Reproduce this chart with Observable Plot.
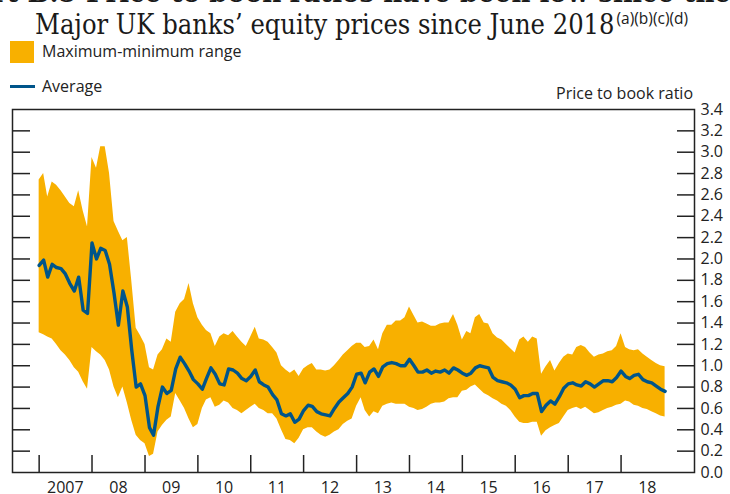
<!DOCTYPE html>
<html><head><meta charset="utf-8">
<script src="https://cdn.jsdelivr.net/npm/d3@7"></script>
<script src="https://cdn.jsdelivr.net/npm/@observablehq/plot@0.6"></script>
<style>
html,body{margin:0;padding:0;background:#fff;overflow:hidden;width:730px;height:494px}
#wrap{position:relative;width:730px;height:494px;overflow:hidden}
#head{position:relative;height:100px;width:730px}
.t1{position:absolute;left:-64px;top:-25px;white-space:nowrap;font:bold 29px "DejaVu Serif Condensed","DejaVu Serif",serif;color:#1a1a1a}
.t2{position:absolute;left:35px;top:9px;white-space:nowrap;font:27px "DejaVu Serif Condensed","DejaVu Serif",serif;color:#1a1a1a;background:#fff}
.t2 .sup{font:15.5px "Open Sans",sans-serif;position:relative;top:-10px;margin-left:2px}
.lg{position:absolute;font:16px "Open Sans",sans-serif;color:#222;white-space:nowrap}
.sw{position:absolute;left:10px;top:41px;width:24px;height:22px;background:#F8B000}
.ln{position:absolute;left:10px;top:85px;width:25px;height:3px;background:#00558A}
.yl{position:absolute;right:37px;top:82px;font:16px "Open Sans",sans-serif;color:#222;white-space:nowrap}
</style></head>
<body><div id="wrap">
<div id="head">
<div class="t1">Chart B.5 Price to book ratios have been low since the</div>
<div class="t2">Major UK banks’ equity prices since June 2018<span class="sup">(a)(b)(c)(d)</span></div>
<div class="sw"></div><div class="lg" style="left:42px;top:40px">Maximum-minimum range</div>
<div class="ln"></div><div class="lg" style="left:42px;top:75px">Average</div>
<div class="yl">Price to book ratio</div>
</div>
<div id="chart"></div>
</div>
<script>
// Monthly readings, Jan 2007 - Nov 2018
const avgValues = [
1.94,1.99,1.83,1.95,1.92,1.91,1.86,1.77,1.70,1.83,1.52,1.49,
2.15,2.00,2.10,2.08,1.95,1.68,1.38,1.70,1.55,1.15,0.80,0.83,
0.72,0.42,0.35,0.62,0.80,0.74,0.77,0.97,1.08,1.02,0.95,0.87,
0.83,0.78,0.88,0.98,0.92,0.83,0.82,0.97,0.96,0.93,0.88,0.86,
0.90,0.96,0.85,0.82,0.80,0.73,0.68,0.55,0.53,0.55,0.47,0.50,
0.58,0.63,0.62,0.57,0.55,0.54,0.53,0.60,0.66,0.70,0.74,0.80,
0.92,0.93,0.84,0.94,0.97,0.90,0.99,1.02,1.03,1.02,1.00,1.00,
1.06,1.00,0.94,0.94,0.96,0.93,0.95,0.94,0.96,0.93,0.98,0.96,
0.93,0.91,0.93,0.98,1.00,0.99,0.98,0.89,0.86,0.85,0.84,0.82,
0.78,0.70,0.72,0.72,0.74,0.74,0.57,0.63,0.67,0.64,0.71,0.79,
0.83,0.84,0.82,0.81,0.85,0.83,0.80,0.83,0.86,0.86,0.85,0.89,
0.95,0.90,0.88,0.91,0.92,0.87,0.85,0.84,0.81,0.78,0.76];
const maxValues = [
2.74,2.80,2.58,2.72,2.69,2.64,2.58,2.52,2.49,2.64,2.45,2.30,
2.95,2.85,3.05,3.05,2.80,2.35,2.26,2.17,2.20,1.80,1.35,1.28,
1.20,0.98,0.96,1.10,1.15,1.25,1.22,1.50,1.58,1.62,1.77,1.58,
1.45,1.38,1.33,1.30,1.18,1.27,1.30,1.28,1.32,1.27,1.22,1.18,
1.27,1.36,1.25,1.24,1.22,1.17,1.12,1.00,0.96,0.93,0.96,0.90,
0.97,1.00,1.02,0.96,0.96,0.95,0.96,1.00,1.05,1.10,1.14,1.18,
1.21,1.21,1.17,1.18,1.24,1.15,1.30,1.38,1.38,1.42,1.42,1.45,
1.55,1.47,1.40,1.41,1.39,1.37,1.37,1.39,1.40,1.40,1.48,1.38,
1.24,1.32,1.30,1.45,1.48,1.40,1.39,1.30,1.26,1.24,1.20,1.16,
1.12,1.24,1.27,1.22,1.27,1.25,0.92,0.99,1.05,0.95,1.02,1.08,
1.11,1.10,1.17,1.19,1.17,1.12,1.08,1.10,1.11,1.13,1.14,1.18,
1.30,1.17,1.15,1.14,1.15,1.11,1.08,1.05,1.02,1.00,0.99];
const minValues = [
1.31,1.29,1.27,1.25,1.20,1.14,1.10,1.05,0.98,0.94,0.85,0.78,
1.17,1.13,1.10,1.05,0.96,0.80,0.70,0.80,0.65,0.49,0.35,0.30,
0.27,0.15,0.17,0.38,0.44,0.49,0.52,0.74,0.67,0.60,0.50,0.42,
0.45,0.60,0.68,0.70,0.61,0.63,0.67,0.65,0.60,0.58,0.55,0.58,
0.61,0.64,0.60,0.58,0.55,0.55,0.50,0.40,0.31,0.30,0.27,0.32,
0.40,0.42,0.42,0.38,0.35,0.33,0.35,0.38,0.40,0.45,0.48,0.50,
0.62,0.70,0.58,0.52,0.57,0.55,0.62,0.64,0.65,0.64,0.64,0.64,
0.61,0.60,0.58,0.59,0.61,0.64,0.65,0.65,0.66,0.69,0.70,0.70,
0.76,0.77,0.80,0.82,0.78,0.74,0.72,0.69,0.67,0.64,0.62,0.58,
0.52,0.47,0.46,0.46,0.47,0.47,0.34,0.39,0.42,0.44,0.46,0.52,
0.58,0.60,0.61,0.59,0.61,0.58,0.55,0.56,0.58,0.60,0.61,0.63,
0.64,0.67,0.66,0.63,0.62,0.60,0.59,0.57,0.55,0.53,0.52];
const yearLabels = ["2007","08","09","10","11","12","13","14","15","16","17","18"];
const yTickValues = [0.0,0.2,0.4,0.6,0.8,1.0,1.2,1.4,1.6,1.8,2.0,2.2,2.4,2.6,2.8,3.0,3.2,3.4];
const yInnerTicks = [0.2,0.4,0.6,0.8,1.0,1.2,1.4,1.6,1.8,2.0,2.2,2.4,2.6,2.8,3.0,3.2];

const months = d3.utcMonth.range(new Date(Date.UTC(2007,0,1)), new Date(Date.UTC(2018,11,1)));
const rows = months.map((d,i)=>({date:d, avg:avgValues[i], max:maxValues[i], min:minValues[i]}));
const yearStarts = yearLabels.map((_,i)=>new Date(Date.UTC(2007+i,0,1)));
const labelRows = yearLabels.map((l,i)=>({date:new Date(Date.UTC(2007+i,6,1)), label:l}));

const ink = "#222";
const chart = Plot.plot({
  width:730, height:400,
  marginTop:9, marginLeft:12, marginRight:36, marginBottom:28,
  x:{type:"utc", domain:[new Date(Date.UTC(2006,6,1)), new Date(Date.UTC(2019,4,23))], axis:null},
  y:{domain:[0,3.4], axis:null},
  style:{fontFamily:"'Open Sans', sans-serif", fontSize:"16px", color:ink, background:"white", overflow:"visible"},
  marks:[
    Plot.areaY(rows,{x:"date", y1:"min", y2:"max", fill:"#F8B000", fillOpacity:1}),
    Plot.lineY(rows,{x:"date", y:"avg", stroke:"#00558A", strokeWidth:3.4, strokeLinejoin:"round"}),
    Plot.axisY(yInnerTicks,{anchor:"left", tickSize:-18, tickFormat:()=>"", label:null, stroke:ink, strokeWidth:1.5}),
    Plot.axisY(yInnerTicks,{anchor:"right", tickSize:-18, tickFormat:()=>"", label:null, stroke:ink, strokeWidth:1.5}),
    Plot.axisY(yTickValues,{anchor:"right", tickSize:0, tickPadding:6, tickFormat:d3.format(".1f"), label:null, fontSize:16, fill:ink}),
    Plot.axisX(yearStarts,{anchor:"bottom", tickSize:-17, tickFormat:()=>"", label:null, stroke:ink, strokeWidth:1.5}),
    Plot.text(labelRows,{x:"date", text:"label", frameAnchor:"bottom", lineAnchor:"top", dy:9, fontSize:16, fill:ink}),
    Plot.frame({stroke:ink, strokeWidth:1.5})
  ]
});
document.getElementById("chart").appendChild(chart);
</script>
</body></html>
